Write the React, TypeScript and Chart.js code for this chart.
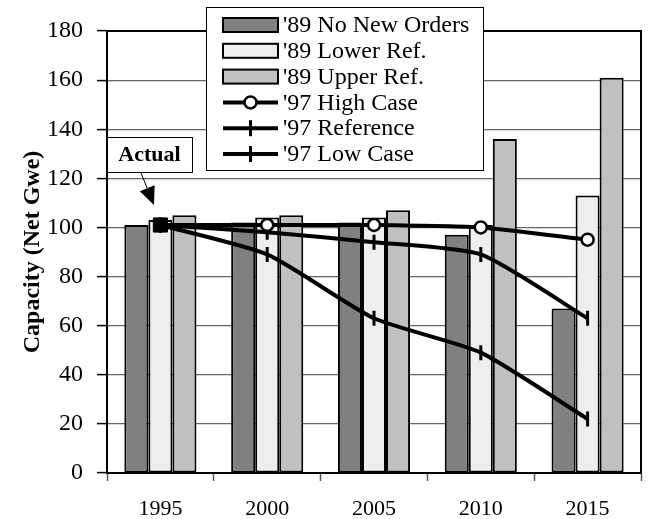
import React, { useEffect, useRef } from 'react';
import { Chart, registerables } from 'chart.js';

Chart.register(...registerables);

// ---- data ----
const categories = ['1995', '2000', '2005', '2010', '2015'];
const noNewOrders89 = [101, 102, 102, 97, 67];
const lowerRef89 = [103, 104, 104, 101, 113];
const upperRef89 = [105, 105, 107, 136, 161];
const highCase97 = [101, 101, 101, 100, 95];
const reference97 = [101, 98, 94, 89, 63];
const lowCase97 = [101, 89, 63, 49, 22];
const yMin = 0;
const yMax = 180;
const yStep = 20;
const seriesLabels = [
  "'89 No New Orders",
  "'89 Lower Ref.",
  "'89 Upper Ref.",
  "'97 High Case",
  "'97 Reference",
  "'97 Low Case",
];
const annotationText = 'Actual';
const yTitle = 'Capacity (Net Gwe)';

const SERIF = '"Liberation Serif", "Times New Roman", serif';
const DARK = '#808080';
const LIGHT = '#eeeeee';
const MID = '#c0c0c0';

const framePlugin = {
  id: 'frame',
  afterDraw(chart: any) {
    const { ctx, chartArea } = chart;
    const { left, right, top, bottom } = chartArea;
    ctx.save();
    ctx.strokeStyle = '#000';
    ctx.lineWidth = 2;
    ctx.beginPath();
    ctx.moveTo(left, top);
    ctx.lineTo(right, top);
    ctx.lineTo(right, bottom);
    ctx.stroke();
    ctx.restore();

    // legend box
    const lx = 206, ly = 7, lw = 277, lh = 163;
    ctx.save();
    ctx.fillStyle = '#fff';
    ctx.fillRect(lx, ly, lw, lh);
    ctx.strokeStyle = '#000';
    ctx.lineWidth = 1;
    ctx.strokeRect(lx + 0.5, ly + 0.5, lw, lh);
    const sx0 = 223, sx1 = 278, tx = 283;
    const rowY = (i: number) => 25 + i * 25.8;
    const fills = [DARK, LIGHT, MID];
    ctx.font = `24px ${SERIF}`;
    ctx.textBaseline = 'middle';
    ctx.textAlign = 'left';
    for (let i = 0; i < 6; i++) {
      const y = rowY(i);
      if (i < 3) {
        ctx.fillStyle = fills[i];
        ctx.fillRect(sx0, y - 7, sx1 - sx0, 14);
        ctx.strokeStyle = '#000';
        ctx.lineWidth = 2;
        ctx.strokeRect(sx0, y - 7, sx1 - sx0, 14);
      } else {
        ctx.strokeStyle = '#000';
        ctx.lineWidth = 4;
        ctx.beginPath();
        ctx.moveTo(sx0, y);
        ctx.lineTo(sx1, y);
        ctx.stroke();
        const cx = (sx0 + sx1) / 2;
        if (i === 3) {
          ctx.beginPath();
          ctx.arc(cx, y, 6, 0, Math.PI * 2);
          ctx.fillStyle = '#fff';
          ctx.fill();
          ctx.lineWidth = 2.5;
          ctx.stroke();
        } else {
          ctx.lineWidth = 3;
          ctx.beginPath();
          ctx.moveTo(cx, y - 8);
          ctx.lineTo(cx, y + 8);
          ctx.stroke();
        }
      }
      ctx.fillStyle = '#000';
      ctx.fillText(seriesLabels[i], tx, y + 1);
    }
    ctx.restore();

    // "Actual" annotation
    const bx = 107, by = 137, bw = 85, bh = 35;
    ctx.save();
    ctx.fillStyle = '#fff';
    ctx.fillRect(bx, by, bw, bh);
    ctx.strokeStyle = '#000';
    ctx.lineWidth = 1;
    ctx.strokeRect(bx + 0.5, by + 0.5, bw, bh);
    ctx.fillStyle = '#000';
    ctx.font = `bold 22px ${SERIF}`;
    ctx.textAlign = 'center';
    ctx.textBaseline = 'middle';
    ctx.fillText(annotationText, bx + bw / 2, by + bh / 2 + 1);
    // arrow
    const ax0 = 141, ay0 = by + bh + 1, ax1 = 154, ay1 = 205;
    const dx = ax1 - ax0, dy = ay1 - ay0;
    const len = Math.hypot(dx, dy);
    const ux = dx / len, uy = dy / len;
    const hl = 18, hw = 8;
    const baseX = ax1 - ux * hl, baseY = ay1 - uy * hl;
    ctx.lineWidth = 1;
    ctx.beginPath();
    ctx.moveTo(ax0, ay0);
    ctx.lineTo(baseX, baseY);
    ctx.stroke();
    ctx.beginPath();
    ctx.moveTo(ax1, ay1);
    ctx.lineTo(baseX - uy * hw, baseY + ux * hw);
    ctx.lineTo(baseX + uy * hw, baseY - ux * hw);
    ctx.closePath();
    ctx.fill();
    ctx.restore();
  },
};

export default function App() {
  const ref = useRef<HTMLCanvasElement | null>(null);

  useEffect(() => {
    document.body.style.margin = '0';
    const canvas = ref.current;
    if (!canvas) return;
    const barBase = {
      type: 'bar' as const,
      borderColor: '#000',
      borderWidth: 2,
      borderSkipped: false as const,
      categoryPercentage: 0.675,
      barPercentage: 1,
      order: 3,
    };
    const lineBase = {
      type: 'line' as const,
      borderColor: '#000',
      borderWidth: 4,
      tension: 0.2,
      fill: false,
      pointBorderColor: '#000',
    };
    const chart = new Chart(canvas, {
      type: 'bar',
      data: {
        labels: categories,
        datasets: [
          { ...barBase, label: seriesLabels[0], data: noNewOrders89, backgroundColor: DARK },
          { ...barBase, label: seriesLabels[1], data: lowerRef89, backgroundColor: LIGHT },
          { ...barBase, label: seriesLabels[2], data: upperRef89, backgroundColor: MID },
          {
            ...lineBase,
            label: seriesLabels[4],
            data: reference97,
            order: 1,
            pointStyle: 'line',
            rotation: 90,
            pointRadius: 7.5,
            pointBorderWidth: 3,
            pointBackgroundColor: '#000',
          },
          {
            ...lineBase,
            label: seriesLabels[5],
            data: lowCase97,
            order: 1,
            pointStyle: 'line',
            rotation: 90,
            pointRadius: 7.5,
            pointBorderWidth: 3,
            pointBackgroundColor: '#000',
          },
          {
            ...lineBase,
            label: seriesLabels[3],
            data: highCase97,
            order: 0,
            pointStyle: ['rect', 'circle', 'circle', 'circle', 'circle'],
            pointRadius: [10, 6, 6, 6, 6],
            pointBorderWidth: [1, 2.5, 2.5, 2.5, 2.5],
            pointBackgroundColor: ['#000', '#fff', '#fff', '#fff', '#fff'],
          },
        ],
      } as any,
      options: {
        responsive: false,
        animation: false,
        devicePixelRatio: 1,
        layout: { padding: { top: 31, right: 3, left: 0, bottom: 0 } },
        plugins: { legend: { display: false }, tooltip: { enabled: false } },
        scales: {
          x: {
            offset: true,
            grid: {
              offset: true,
              drawOnChartArea: false,
              drawTicks: true,
              tickLength: 8,
              tickColor: '#555',
              tickWidth: 1.5,
            },
            border: { color: '#000', width: 2 },
            ticks: {
              color: '#000',
              font: { family: SERIF, size: 22 },
              padding: 15,
              maxRotation: 0,
            },
            afterFit(scale: any) {
              scale.height = 46;
            },
          },
          y: {
            min: yMin,
            max: yMax,
            grid: {
              color: '#666',
              lineWidth: 1.2,
              tickLength: 10,
              tickColor: '#000',
              tickWidth: 1.5,
            },
            border: { color: '#000', width: 2 },
            ticks: {
              stepSize: yStep,
              color: '#000',
              font: { family: SERIF, size: 24 },
              padding: 14,
            },
            title: {
              display: true,
              text: yTitle,
              color: '#000',
              font: { family: SERIF, size: 24, weight: 'bold' },
              padding: { top: 18, bottom: 0 },
            },
            afterFit(scale: any) {
              scale.width = 107;
            },
          },
        },
      },
      plugins: [framePlugin],
    } as any);
    return () => chart.destroy();
  }, []);

  return (
    <div style={{ width: 652, height: 519 }}>
      <canvas ref={ref} width={652} height={519} style={{ display: 'block' }} />
    </div>
  );
}
